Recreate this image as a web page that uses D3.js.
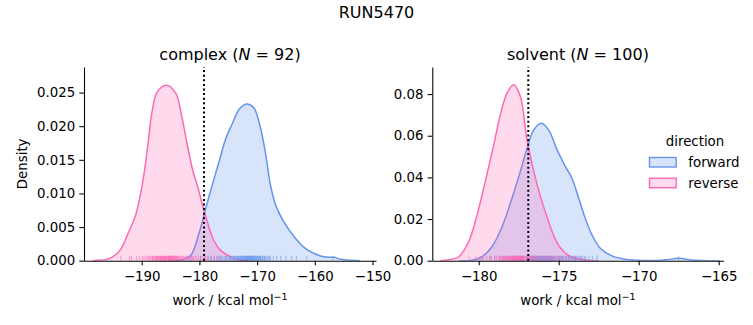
<!DOCTYPE html>
<html>
<head>
<meta charset="utf-8">
<script src="https://cdn.jsdelivr.net/npm/d3@7"></script>
<style>
  body { margin: 0; background: #fff; }
  text { font-family: "DejaVu Sans", sans-serif; fill: #000; }
</style>
</head>
<body>
<svg id="chart" width="753" height="325"></svg>
<script>
// ---------------- DATA ----------------
const suptitle = "RUN5470";
const directions = ["forward", "reverse"];
const colors = { forward: "#6495ED", reverse: "#FF69B4" };

// complex panel (N = 92): KDE curves (work, density)
const complexForwardWork = [-184.5, -183.2, -181.5, -180.1, -178.9, -177.8, -176.6, -175.5, -174.3, -173.2, -172.4, -171.7, -170.55, -169.4, -168.5, -167.7, -166.8, -165.4, -163.6, -161.6, -159.0, -157.5, -156.7, -155.5, -154.4, -152.1];
const complexForwardDens = [0, 0.0001, 0.0008, 0.0040, 0.0078, 0.0112, 0.0147, 0.0180, 0.0204, 0.0224, 0.0231, 0.0233, 0.0227, 0.0197, 0.0157, 0.0113, 0.0083, 0.0058, 0.0036, 0.0018, 0.0007, 0.0005, 0.0005, 0.0002, 0.0001, 0];
const complexReverseWork = [-198.5, -197.7, -196.0, -194.2, -193.3, -192.5, -191.04, -189.9, -189.0, -188.2, -187.3, -185.7, -184.1, -183.0, -182.1, -181.2, -180.4, -179.5, -178.6, -177.5, -176.3, -174.6, -172.9, -171.5];
const complexReverseDens = [0, 0.00005, 0.0002, 0.0011, 0.0022, 0.0038, 0.0068, 0.0113, 0.0167, 0.0222, 0.0251, 0.0261, 0.0249, 0.0212, 0.0172, 0.0136, 0.0113, 0.0084, 0.0057, 0.0030, 0.0015, 0.0006, 0.0001, 0];

// solvent panel (N = 100): KDE curves
const solventForwardWork = [-181.2, -180.42, -179.79, -179.17, -178.54, -177.92, -177.4, -176.98, -176.56, -176.08, -175.63, -175.1, -174.58, -174.17, -173.75, -173.34, -172.92, -172.4, -171.67, -170.83, -169.6, -168.9, -168.3, -167.5, -166.67, -165.6, -165.0];
const solventForwardDens = [0, 0.0002, 0.0019, 0.0067, 0.0163, 0.0300, 0.0428, 0.0540, 0.0628, 0.0660, 0.0628, 0.0532, 0.0452, 0.0396, 0.0300, 0.0204, 0.0124, 0.0060, 0.0023, 0.0007, 0.0001, 0.0001, 0.0004, 0.0012, 0.0003, 0, 0];
const solventReverseWork = [-182.4, -182.1, -181.25, -180.63, -180.1, -179.59, -179.06, -178.65, -178.23, -177.81, -177.4, -176.98, -176.56, -176.15, -175.73, -175.31, -174.9, -174.38, -173.75, -173.1, -172.5];
const solventReverseDens = [0, 0.0002, 0.0019, 0.0091, 0.0220, 0.0380, 0.0556, 0.0700, 0.0805, 0.0845, 0.0790, 0.0580, 0.0430, 0.0310, 0.0210, 0.0120, 0.0062, 0.0025, 0.0008, 0.0001, 0];

// rug samples (estimated)
const complexForwardRug = [-181.5, -179.8, -179.0, -178.4, -177.9, -177.4, -177.0, -176.6, -176.4, -176.2, -175.9, -175.6, -175.4, -175.3, -175.0, -174.8, -174.6, -174.5, -174.3, -174.1, -174.0, -173.9, -173.7, -173.6, -173.5, -173.4, -173.3, -173.2, -173.1, -172.95, -172.9, -172.8, -172.7, -172.6, -172.5, -172.4, -172.3, -172.2, -172.15, -172.1, -172.0, -171.9, -171.85, -171.8, -171.7, -171.65, -171.6, -171.5, -171.45, -171.4, -171.3, -171.25, -171.2, -171.1, -171.05, -171.0, -170.9, -170.85, -170.8, -170.7, -170.6, -170.55, -170.5, -170.4, -170.3, -170.2, -170.1, -170.0, -169.9, -169.8, -169.7, -169.6, -169.5, -169.4, -169.3, -169.1, -169.0, -168.8, -168.7, -168.5, -168.3, -168.1, -167.9, -167.7, -167.2, -166.6, -165.9, -165.0, -164.0, -163.2, -161.4, -156.9];
const complexReverseRug = [-193.6, -192.1, -191.8, -190.9, -190.4, -189.9, -189.6, -189.3, -189.0, -188.8, -188.6, -188.4, -188.2, -188.1, -188.0, -187.9, -187.7, -187.6, -187.5, -187.4, -187.3, -187.25, -187.1, -187.0, -186.9, -186.8, -186.75, -186.7, -186.6, -186.5, -186.4, -186.35, -186.3, -186.2, -186.1, -186.05, -186.0, -185.9, -185.85, -185.8, -185.7, -185.6, -185.5, -185.4, -185.35, -185.3, -185.2, -185.15, -185.1, -185.05, -185.0, -184.9, -184.85, -184.8, -184.7, -184.65, -184.6, -184.5, -184.4, -184.35, -184.3, -184.2, -184.1, -184.0, -183.9, -183.8, -183.7, -183.6, -183.5, -183.3, -183.2, -183.0, -182.8, -182.7, -182.5, -182.3, -182.1, -181.9, -181.7, -181.4, -181.2, -181.0, -180.7, -180.4, -180.1, -179.8, -179.4, -179.0, -178.6, -178.1, -177.5, -176.8];
const solventForwardRug = [-179.8, -179.3, -179.0, -178.7, -178.5, -178.3, -178.1, -177.9, -177.7, -177.6, -177.5, -177.4, -177.3, -177.25, -177.2, -177.1, -177.0, -176.95, -176.9, -176.85, -176.8, -176.75, -176.7, -176.65, -176.62, -176.6, -176.58, -176.55, -176.5, -176.48, -176.45, -176.4, -176.38, -176.35, -176.3, -176.28, -176.25, -176.22, -176.2, -176.18, -176.15, -176.1, -176.08, -176.05, -176.0, -175.98, -175.95, -175.9, -175.88, -175.85, -175.8, -175.78, -175.75, -175.7, -175.68, -175.65, -175.62, -175.6, -175.58, -175.55, -175.5, -175.48, -175.45, -175.4, -175.38, -175.35, -175.3, -175.25, -175.2, -175.1, -175.05, -175.0, -174.95, -174.9, -174.85, -174.8, -174.75, -174.7, -174.6, -174.55, -174.5, -174.4, -174.35, -174.3, -174.2, -174.15, -174.1, -174.0, -173.95, -173.9, -173.8, -173.7, -173.6, -173.5, -173.4, -173.3, -173.1, -172.9, -172.6, -167.5];
const solventReverseRug = [-180.6, -180.2, -179.9, -179.7, -179.5, -179.3, -179.2, -179.0, -178.9, -178.8, -178.7, -178.62, -178.6, -178.5, -178.48, -178.45, -178.4, -178.35, -178.33, -178.3, -178.25, -178.2, -178.18, -178.15, -178.1, -178.05, -178.02, -178.0, -177.95, -177.92, -177.9, -177.88, -177.85, -177.82, -177.8, -177.78, -177.76, -177.75, -177.72, -177.7, -177.68, -177.66, -177.65, -177.62, -177.6, -177.58, -177.56, -177.55, -177.52, -177.5, -177.47, -177.45, -177.44, -177.42, -177.4, -177.37, -177.35, -177.34, -177.32, -177.3, -177.27, -177.25, -177.22, -177.2, -177.15, -177.1, -177.05, -177.0, -176.95, -176.9, -176.85, -176.8, -176.75, -176.7, -176.65, -176.6, -176.55, -176.5, -176.45, -176.4, -176.3, -176.2, -176.1, -176.0, -175.9, -175.8, -175.7, -175.6, -175.5, -175.4, -175.3, -175.2, -175.1, -175.0, -174.9, -174.7, -174.5, -174.3, -174.0, -173.6];

// reference (dotted) lines
const complexDotted = -179.2;
const solventDotted = -176.9;

// ticks
const complexXTicks = [-190, -180, -170, -160, -150];
const complexYTicks = [0, 0.005, 0.010, 0.015, 0.020, 0.025];
const solventXTicks = [-180, -175, -170, -165];
const solventYTicks = [0, 0.02, 0.04, 0.06, 0.08];

const panels = [
  { name: "complex", n: 92, xDomain: [-200, -149.4], yDomain: [0, 0.0288], xr: [84, 376],
    xTicks: complexXTicks, yTicks: complexYTicks, yFmt: ".3f", dotted: complexDotted, ylabel: "Density",
    series: { forward: [complexForwardWork, complexForwardDens, complexForwardRug],
              reverse: [complexReverseWork, complexReverseDens, complexReverseRug] } },
  { name: "solvent", n: 100, xDomain: [-182.9, -164.7], yDomain: [0, 0.093], xr: [432.3, 723.5],
    xTicks: solventXTicks, yTicks: solventYTicks, yFmt: ".2f", dotted: solventDotted, ylabel: null,
    series: { forward: [solventForwardWork, solventForwardDens, solventForwardRug],
              reverse: [solventReverseWork, solventReverseDens, solventReverseRug] } }
];

// ---------------- DRAW ----------------
const svg = d3.select("#chart");
svg.append("rect").attr("width", 753).attr("height", 325).attr("fill", "#fff");
const TOP = 67, BOT = 260.7;
const tickLen = 4.67, fs = 13.33;
const curve = d3.curveCatmullRom.alpha(0.5);

svg.append("text").attr("x", 376.5).attr("y", 18.3).attr("text-anchor", "middle")
  .style("font-size", "16px").text(suptitle);

panels.forEach(p => {
  const x = d3.scaleLinear().domain(p.xDomain).range(p.xr);
  const y = d3.scaleLinear().domain(p.yDomain).range([BOT, TOP]);
  const g = svg.append("g");
  const clipId = "clip-" + p.name;
  svg.append("clipPath").attr("id", clipId).append("rect")
    .attr("x", p.xr[0]).attr("y", TOP).attr("width", p.xr[1] - p.xr[0]).attr("height", BOT - TOP);

  directions.forEach(dir => {
    const [wx, dy] = p.series[dir];
    const pts = wx.map((w, i) => [w, dy[i]]);
    const area = d3.area().x(d => x(d[0])).y0(y(0)).y1(d => y(d[1])).curve(curve);
    const line = d3.line().x(d => x(d[0])).y(d => y(d[1])).curve(curve);
    g.append("path").attr("d", area(pts)).attr("clip-path", `url(#${clipId})`)
      .attr("fill", colors[dir]).attr("fill-opacity", 0.25);
    g.append("path").attr("d", line(pts)).attr("clip-path", `url(#${clipId})`)
      .attr("fill", "none").attr("stroke", colors[dir]).attr("stroke-width", 1.5);
  });
  directions.forEach(dir => {
    const rug = p.series[dir][2];
    g.selectAll(null).data(rug).enter().append("line")
      .attr("x1", d => x(d)).attr("x2", d => x(d))
      .attr("y1", BOT).attr("y2", BOT - 4.85)
      .attr("stroke", colors[dir]).attr("stroke-opacity", 0.6).attr("stroke-width", 1);
  });

  // dotted line
  g.append("line").attr("x1", x(p.dotted)).attr("x2", x(p.dotted))
    .attr("y1", BOT).attr("y2", TOP)
    .attr("stroke", "#000").attr("stroke-width", 2).attr("stroke-dasharray", "2,2.6");

  // axes
  const xa = g.append("g").attr("transform", `translate(0,${BOT})`)
    .call(d3.axisBottom(x).tickValues(p.xTicks).tickFormat(d3.format("d"))
      .tickSize(tickLen).tickSizeOuter(0).tickPadding(6.5));
  const ya = g.append("g").attr("transform", `translate(${p.xr[0]},0)`)
    .call(d3.axisLeft(y).tickValues(p.yTicks).tickFormat(d3.format(p.yFmt))
      .tickSize(tickLen).tickSizeOuter(0).tickPadding(4.2));
  [xa, ya].forEach(a => {
    a.selectAll("text").style("font-size", fs + "px").style("font-family", "DejaVu Sans").attr("fill", "#000");
    a.selectAll("line").attr("stroke", "#000").attr("stroke-width", 1.07);
    a.select(".domain").attr("stroke", "#000").attr("stroke-width", 1.07);
  });

  // title
  const cx = (p.xr[0] + p.xr[1]) / 2;
  const t = g.append("text").attr("x", cx).attr("y", 60).attr("text-anchor", "middle").style("font-size", "16px");
  t.append("tspan").text(p.name + " (");
  t.append("tspan").style("font-style", "italic").text("N");
  t.append("tspan").text(" = " + p.n + ")");

  // x label
  const xl = g.append("text").attr("x", cx).attr("y", 305).attr("text-anchor", "middle").style("font-size", fs + "px");
  xl.append("tspan").text("work / kcal mol");
  xl.append("tspan").attr("dy", -5.5).style("font-size", "9.5px").text("\u22121");

  if (p.ylabel) {
    g.append("text").attr("transform", `translate(27,${(TOP + BOT) / 2}) rotate(-90)`)
      .attr("text-anchor", "middle").style("font-size", fs + "px").text(p.ylabel);
  }
});

// legend
const lg = svg.append("g");
lg.append("text").attr("x", 695).attr("y", 145.7).attr("text-anchor", "middle").style("font-size", fs + "px").text("direction");
directions.forEach((dir, i) => {
  const yy = 157.5 + i * 20.7;
  lg.append("rect").attr("x", 649.5).attr("y", yy).attr("width", 26.7).attr("height", 9.5)
    .attr("fill", colors[dir]).attr("fill-opacity", 0.25)
    .attr("stroke", colors[dir]).attr("stroke-width", 1.4);
  lg.append("text").attr("x", 688.3).attr("y", yy + 9.3).style("font-size", fs + "px").text(dir);
});
</script>
</body>
</html>
